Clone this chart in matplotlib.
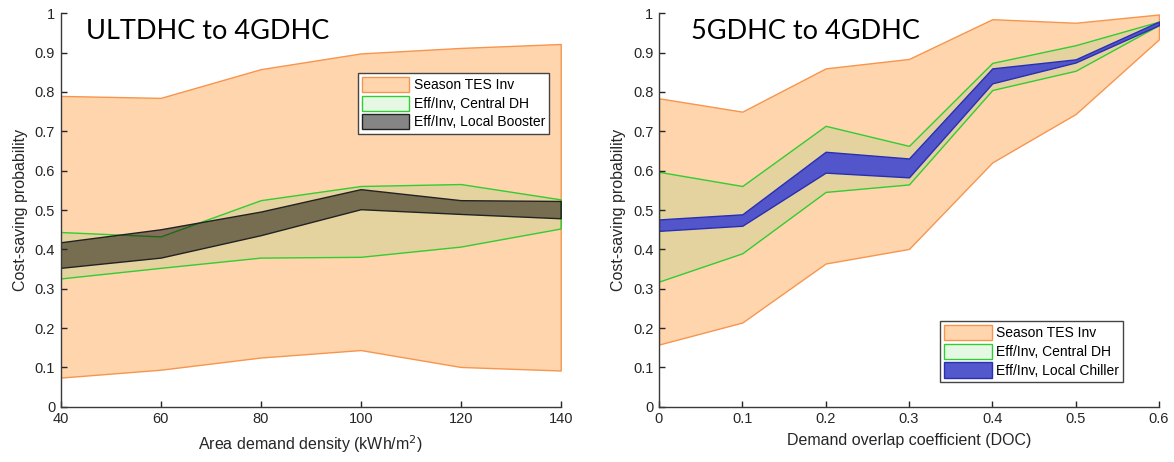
import matplotlib
matplotlib.use("Agg")
import matplotlib.pyplot as plt
from matplotlib.patches import Patch

plt.rcParams['font.family'] = ['Liberation Sans', 'DejaVu Sans']

# left panel: area demand density
density = [40, 60, 80, 100, 120, 140]
tes_hi_l = [0.790, 0.785, 0.858, 0.898, 0.912, 0.922]
tes_lo_l = [0.074, 0.094, 0.125, 0.144, 0.101, 0.092]
cdh_hi_l = [0.444, 0.433, 0.525, 0.561, 0.566, 0.527]
cdh_lo_l = [0.326, 0.353, 0.379, 0.381, 0.407, 0.453]
boost_hi = [0.418, 0.451, 0.496, 0.553, 0.525, 0.523]
boost_lo = [0.353, 0.379, 0.436, 0.502, 0.490, 0.479]

# right panel: demand overlap coefficient
doc = [0, 0.1, 0.2, 0.3, 0.4, 0.5, 0.6]
tes_hi_r = [0.784, 0.750, 0.860, 0.884, 0.985, 0.976, 0.997]
tes_lo_r = [0.158, 0.214, 0.364, 0.401, 0.621, 0.744, 0.934]
cdh_hi_r = [0.597, 0.561, 0.714, 0.663, 0.874, 0.919, 0.979]
cdh_lo_r = [0.318, 0.390, 0.546, 0.565, 0.805, 0.854, 0.970]
chill_hi = [0.476, 0.489, 0.648, 0.631, 0.860, 0.883, 0.979]
chill_lo = [0.447, 0.460, 0.595, 0.583, 0.822, 0.875, 0.970]

yticks = [0, 0.1, 0.2, 0.3, 0.4, 0.5, 0.6, 0.7, 0.8, 0.9, 1]
ylabels = ['0', '0.1', '0.2', '0.3', '0.4', '0.5', '0.6', '0.7', '0.8', '0.9', '1']

orange_face = (1.0, 0.55, 0.12, 0.36)
orange_edge = '#f8954d'
green_face = (0.2, 0.8, 0.2, 0.13)
green_edge = '#33cc33'
dark_face = (0, 0, 0, 0.48)
dark_edge = '#222222'
blue_face = (0.30, 0.32, 0.80, 0.97)
blue_edge = '#2a2fb0'
axcol = '#3a3a3a'

fig = plt.figure(figsize=[11.74, 4.62], dpi=100)
ax1 = fig.add_axes([0.0517, 0.1197, 0.4259, 0.8515])
ax2 = fig.add_axes([0.5613, 0.1197, 0.4259, 0.8515])


def band(ax, x, lo, hi, face, edge):
    ax.fill_between(x, lo, hi, facecolor=face, edgecolor=edge, linewidth=1.0)


def style(ax):
    ax.spines['top'].set_visible(False)
    ax.spines['right'].set_visible(False)
    for s in ['left', 'bottom']:
        ax.spines[s].set_color(axcol)
        ax.spines[s].set_linewidth(1.0)
    ax.tick_params(direction='in', length=4, colors='#262626', labelsize=10.5,
                   width=1.0, pad=4)
    ax.set_ylim(0, 1)
    ax.set_yticks(yticks)
    ax.set_yticklabels(ylabels)
    ax.set_ylabel('Cost-saving probability', fontsize=11.5, color='#262626', labelpad=5)


band(ax1, density, tes_lo_l, tes_hi_l, orange_face, orange_edge)
band(ax1, density, cdh_lo_l, cdh_hi_l, green_face, green_edge)
band(ax1, density, boost_lo, boost_hi, dark_face, dark_edge)
style(ax1)
ax1.set_xlim(40, 140)
ax1.set_xticks(density)
ax1.set_xlabel('Area demand density (kWh/m$^2$)', fontsize=11.5, color='#262626', labelpad=5)
ax1.text(0.05, 0.955, 'ULTDHC to 4GDHC', transform=ax1.transAxes, fontsize=19.5,
         family=['Lato', 'DejaVu Sans'], va='center', ha='left')
h1 = [Patch(facecolor=orange_face, edgecolor=orange_edge, label='Season TES Inv'),
      Patch(facecolor=green_face, edgecolor=green_edge, label='Eff/Inv, Central DH'),
      Patch(facecolor=dark_face, edgecolor=dark_edge, label='Eff/Inv, Local Booster')]
leg1 = ax1.legend(handles=h1, loc='upper right', bbox_to_anchor=(0.977, 0.849),
                  fontsize=10, fancybox=False, framealpha=1, edgecolor='#444444',
                  handlelength=3.4, handleheight=1.3, handletextpad=0.3,
                  labelspacing=0.25, borderpad=0.3, borderaxespad=0)
leg1.get_frame().set_linewidth(1.0)

band(ax2, doc, tes_lo_r, tes_hi_r, orange_face, orange_edge)
band(ax2, doc, cdh_lo_r, cdh_hi_r, green_face, green_edge)
band(ax2, doc, chill_lo, chill_hi, blue_face, blue_edge)
style(ax2)
ax2.set_xlim(0, 0.6)
ax2.set_xticks(doc)
ax2.set_xticklabels(['0', '0.1', '0.2', '0.3', '0.4', '0.5', '0.6'])
ax2.set_xlabel('Demand overlap coefficient (DOC)', fontsize=11.5, color='#262626', labelpad=5)
ax2.text(0.065, 0.955, '5GDHC to 4GDHC', transform=ax2.transAxes, fontsize=19.5,
         family=['Lato', 'DejaVu Sans'], va='center', ha='left')
h2 = [Patch(facecolor=orange_face, edgecolor=orange_edge, label='Season TES Inv'),
      Patch(facecolor=green_face, edgecolor=green_edge, label='Eff/Inv, Central DH'),
      Patch(facecolor=blue_face, edgecolor=blue_edge, label='Eff/Inv, Local Chiller')]
leg2 = ax2.legend(handles=h2, loc='upper right', bbox_to_anchor=(0.928, 0.218),
                  fontsize=10, fancybox=False, framealpha=1, edgecolor='#444444',
                  handlelength=3.4, handleheight=1.3, handletextpad=0.3,
                  labelspacing=0.25, borderpad=0.3, borderaxespad=0)
leg2.get_frame().set_linewidth(1.0)

fig.savefig('out.png', dpi=100)
